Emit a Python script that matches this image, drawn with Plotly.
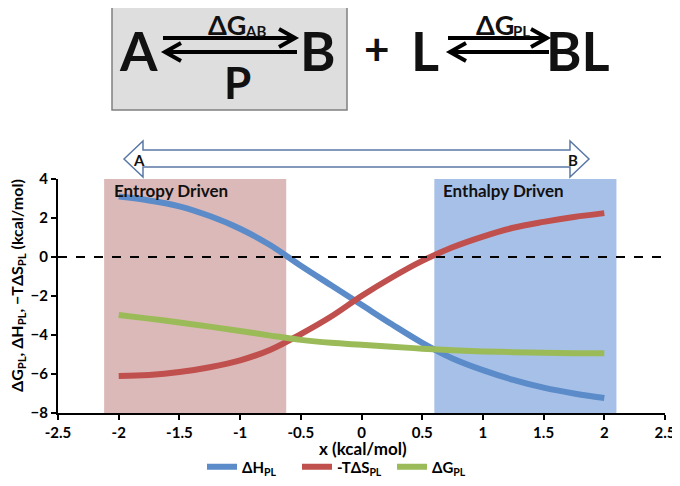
import plotly.graph_objects as go

# ---- data ----
x_vals = [-2, -1.75, -1.5, -1.25, -1, -0.75, -0.5, -0.25, 0, 0.25, 0.5, 0.75, 1, 1.25, 1.5, 1.75, 2]
dH = [3.1, 2.9, 2.6, 2.1, 1.45, 0.6, -0.45, -1.45, -2.45, -3.45, -4.4, -5.2, -5.8, -6.3, -6.7, -7.0, -7.23]
mTdS = [-6.1, -6.05, -5.9, -5.65, -5.3, -4.75, -3.95, -3.05, -2.0, -1.05, -0.2, 0.5, 1.05, 1.5, 1.8, 2.05, 2.25]
dG = [-2.97, -3.16, -3.36, -3.57, -3.79, -4.03, -4.25, -4.4, -4.5, -4.6, -4.7, -4.78, -4.84, -4.88, -4.91, -4.93, -4.94]
series_names = ["ΔH<sub>PL</sub>", "-TΔS<sub>PL</sub>", "ΔG<sub>PL</sub>"]
series_colors = ["#5b8bc8", "#c0504d", "#9bbb59"]
entropy_region = [-2.12, -0.62]
enthalpy_region = [0.6, 2.1]
x_ticks = [-2.5, -2, -1.5, -1, -0.5, 0, 0.5, 1, 1.5, 2, 2.5]
y_ticks = [-8, -6, -4, -2, 0, 2, 4]

# page body has an 8px margin, so the figure is 8px smaller than the window
W, H = 672, 478
L, R, T, B = 50, 15, 171, 73
PW, PH = W - L - R, H - T - B
OFF = 8

def px(xp):  # window pixel -> paper
    return (xp - OFF - L) / PW

def py(yp):
    return (H - B - (yp - OFF)) / PH

FONT = "Lato"

fig = go.Figure()
for ys, name, col in zip([dH, mTdS, dG], series_names, series_colors):
    fig.add_trace(go.Scatter(x=x_vals, y=ys, mode="lines", name=name,
                             line=dict(color=col, width=6, shape="spline")))

shapes = []
shapes.append(dict(type="rect", xref="x", yref="y", x0=entropy_region[0], x1=entropy_region[1],
                   y0=-8, y1=4.1, fillcolor="#dcb9b9", line=dict(width=0), layer="below"))
shapes.append(dict(type="rect", xref="x", yref="y", x0=enthalpy_region[0], x1=enthalpy_region[1],
                   y0=-8, y1=4.1, fillcolor="#a7c0e8", line=dict(width=0), layer="below"))
shapes.append(dict(type="line", xref="paper", yref="y", x0=0, x1=1, y0=0, y1=0,
                   line=dict(color="black", width=2, dash="dash")))

# double-headed hollow arrow
pts = [(124, 159), (143, 141), (143, 150), (570, 150), (570, 141), (589, 159),
       (570, 177), (570, 167), (143, 167), (143, 177)]
path = "M " + " L ".join(f"{px(a):.5f},{py(b):.5f}" for a, b in pts) + " Z"
shapes.append(dict(type="path", xref="paper", yref="paper", path=path,
                   fillcolor="white", line=dict(color="#5a78a6", width=1.5)))

# gray box
shapes.append(dict(type="rect", xref="paper", yref="paper", x0=px(112), x1=px(347),
                   y0=py(110), y1=py(3), fillcolor="#dedede", line=dict(color="#808080", width=1.5)))

def arrow(x0, x1, y, tipdir):
    tip = x1 if tipdir > 0 else x0
    bx = tip - 16 * tipdir
    p = (f"M {px(x0):.5f},{py(y):.5f} L {px(x1):.5f},{py(y):.5f} "
         f"M {px(bx):.5f},{py(y-9):.5f} L {px(tip):.5f},{py(y):.5f} L {px(bx):.5f},{py(y+9):.5f}")
    return dict(type="path", xref="paper", yref="paper", path=p,
                line=dict(color="black", width=4))

shapes.append(arrow(163, 295, 38, 1))
shapes.append(arrow(165, 297, 52, -1))
shapes.append(arrow(448, 547, 38, 1))
shapes.append(arrow(450, 549, 52, -1))

ann = []
def txt(t, x, y, size, xanchor="center", angle=0, color="#111111"):
    ann.append(dict(text=t, x=px(x), y=py(y), xref="paper", yref="paper", showarrow=False,
                    xanchor=xanchor, yanchor="middle", textangle=angle, borderpad=0,
                    font=dict(family=FONT, size=size, color=color, weight="bold")))

txt("A", 138, 50, 54)
txt("B", 318, 50, 54)
txt("P", 237, 82, 44)
txt("ΔG", 247, 25, 27, "right")
txt("AB", 244, 31, 15, "left")
txt("+", 377, 48, 44)
txt("L", 425, 50, 54)
txt("ΔG", 515, 25, 27, "right")
txt("PL", 512, 31, 15, "left")
txt("BL", 578, 50, 54)
txt("A", 139, 160, 15)
txt("B", 573, 160, 15)
txt("Entropy Driven", 113, 190, 17, "left")
txt("Enthalpy Driven", 442, 190, 17, "left")
# axis titles
txt("x (kcal/mol)", 363, 448, 17, color="black")
txt("ΔG<sub>PL</sub>, ΔH<sub>PL</sub>, −TΔS<sub>PL</sub> (kcal/mol)", 17, 286, 16, angle=-90, color="black")

tick_font = dict(family=FONT, size=15, color="black", weight="bold")
fig.update_layout(
    width=W, height=H, margin=dict(l=L, r=R, t=T, b=B, autoexpand=False),
    paper_bgcolor="white", plot_bgcolor="white",
    shapes=shapes, annotations=ann,
    showlegend=True,
    legend=dict(orientation="h", x=px(202), xanchor="left", y=py(467), yanchor="middle",
                font=dict(family=FONT, size=15, color="black", weight="bold"),
                itemwidth=30, entrywidth=50, bgcolor="rgba(0,0,0,0)"),
    xaxis=dict(range=[-2.5, 2.5], tickvals=x_ticks, ticktext=[f"{v:g}" for v in x_ticks],
               showgrid=False, zeroline=False, showline=True, linecolor="black", linewidth=2,
               ticks="outside", ticklen=5, tickwidth=2, tickcolor="black", tickfont=tick_font),
    yaxis=dict(range=[-8, 4], tickvals=y_ticks, showgrid=False, zeroline=False,
               showline=True, linecolor="black", linewidth=2,
               ticks="outside", ticklen=5, tickwidth=2, tickcolor="black", tickfont=tick_font),
)
fig.write_html("out.html")
